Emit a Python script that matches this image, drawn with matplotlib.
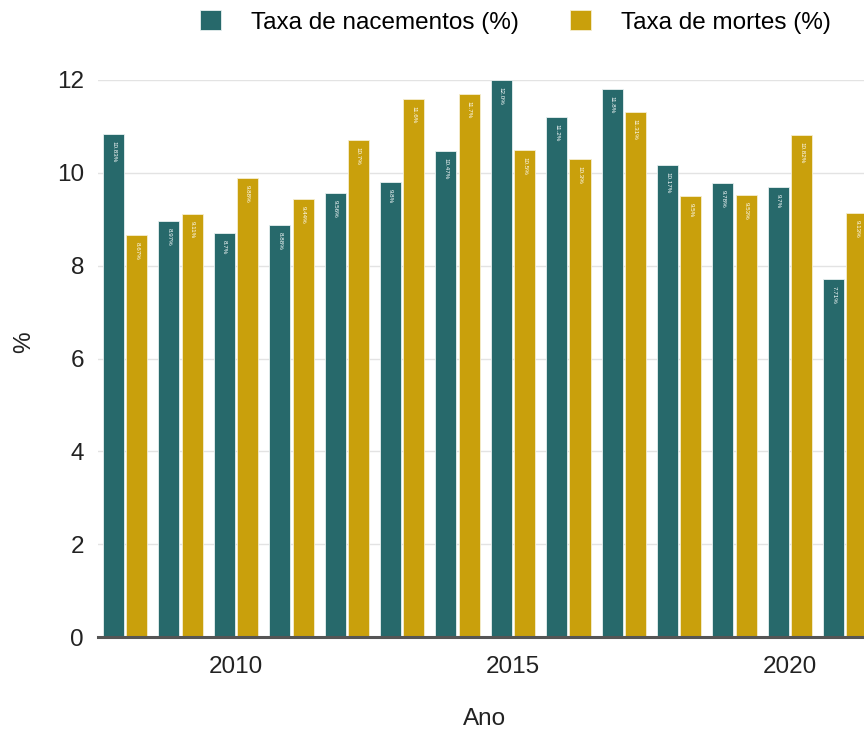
import numpy as np
import matplotlib.pyplot as plt

plt.rcParams['font.family'] = ['Liberation Sans', 'DejaVu Sans']

years = np.arange(2008, 2022)
births = [10.83, 8.97, 8.7, 8.88, 9.56, 9.8, 10.47, 12.0, 11.2, 11.8, 10.17, 9.78, 9.7, 7.71]
deaths = [8.67, 9.11, 9.88, 9.44, 10.7, 11.6, 11.7, 10.5, 10.3, 11.31, 9.5, 9.53, 10.82, 9.13]

teal = '#27696b'
gold = '#c9a00c'

fig = plt.figure(figsize=(8.64, 7.33), dpi=100)
ax = fig.add_axes([98/864, 96/733, 1 - 98/864, 557/733])

w = 0.38
ax.bar(years - 0.21, births, w, color=teal, edgecolor='#e8f0f0', linewidth=0.6,
       label='Taxa de nacementos (%)', zorder=3)
ax.bar(years + 0.21, deaths, w, color=gold, edgecolor='#f5edd0', linewidth=0.6,
       label='Taxa de mortes (%)', zorder=3)

# tiny rotated value labels inside the bars
for x, b, d in zip(years, births, deaths):
    ax.text(x - 0.21, b - 0.15, f'{b:.1f}%' if b == round(b) else f'{b:g}%',
            rotation=-90, ha='center', va='top', fontsize=4.5, color='white', zorder=4)
    ax.text(x + 0.21, d - 0.15, f'{d:g}%', rotation=-90, ha='center', va='top',
            fontsize=4.5, color='white', zorder=4)

ax.set_xlim(2007.509, 2021.336)
ax.set_ylim(0, 12)
ax.set_yticks(range(0, 13, 2))
ax.set_xticks([2010, 2015, 2020])
ax.tick_params(axis='both', length=0, labelsize=17.5, colors='#222222')
ax.tick_params(axis='y', pad=10)
ax.tick_params(axis='x', pad=14)
ax.grid(axis='y', color='#e3e3e3', linewidth=1, zorder=0)

for s in ['top', 'right', 'left']:
    ax.spines[s].set_visible(False)
ax.spines['bottom'].set_color('#555555')
ax.spines['bottom'].set_linewidth(2.2)
ax.spines['bottom'].set_zorder(5)

ax.set_xlabel('Ano', fontsize=17.5, color='#222222')
ax.set_ylabel('%', fontsize=17.5, color='#222222', va='center', ha='center')
ax.xaxis.set_label_coords(485/864, 1 - 708/733, transform=fig.transFigure)
ax.yaxis.set_label_coords(24/864, 1 - 342/733, transform=fig.transFigure)

fig.legend(loc='center', bbox_to_anchor=(515/864, 1 - 22/733), ncol=2,
           frameon=False, fontsize=17.5, handlelength=0.9, handleheight=0.9,
           handletextpad=1.2, columnspacing=2.1, borderpad=0)

fig.savefig('out.png', dpi=100)
